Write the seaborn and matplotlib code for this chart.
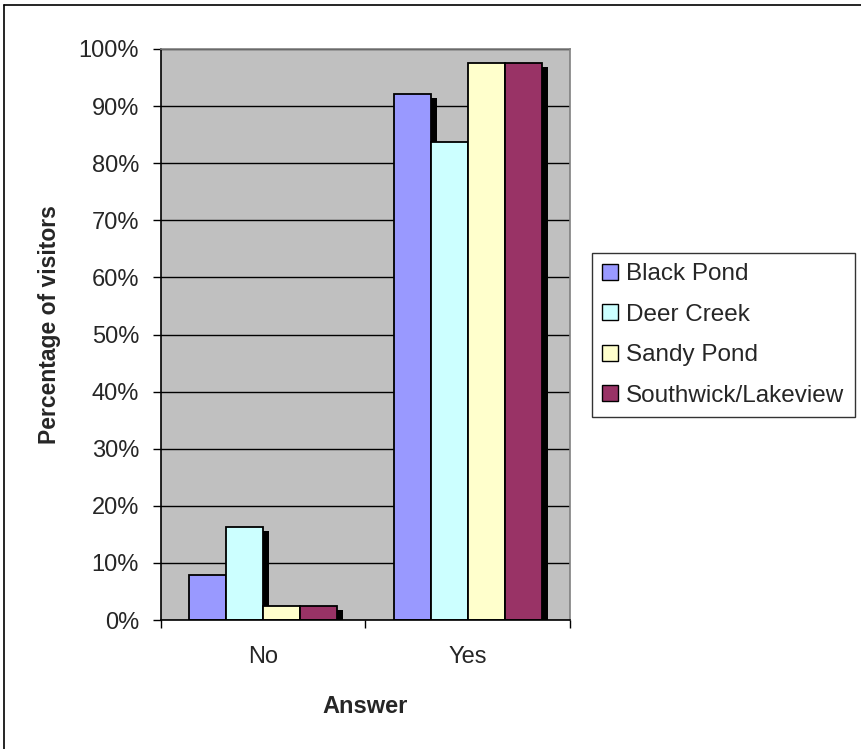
import matplotlib
matplotlib.use("Agg")
import matplotlib.pyplot as plt
import matplotlib.patheffects as pe
from matplotlib.lines import Line2D
from matplotlib.patches import Patch
import seaborn as sns
import pandas as pd

answers = ["No", "Yes"]
sites = ["Black Pond", "Deer Creek", "Sandy Pond", "Southwick/Lakeview"]
black_pond = [7.8, 92.2]
deer_creek = [16.3, 83.7]
sandy_pond = [2.5, 97.5]
southwick_lakeview = [2.5, 97.5]
y_ticks = [0, 10, 20, 30, 40, 50, 60, 70, 80, 90, 100]
y_tick_labels = [f"{t}%" for t in y_ticks]
colors = ["#9999FF", "#CCFFFF", "#FFFFCC", "#993366"]

rows = []
for site, vals in zip(sites, [black_pond, deer_creek, sandy_pond, southwick_lakeview]):
    for ans, v in zip(answers, vals):
        rows.append({"Answer": ans, "Site": site, "Percent": v})
df = pd.DataFrame(rows)

sns.set_theme(style="white")
plt.rcParams["font.family"] = ["Liberation Sans", "DejaVu Sans"]

fig = plt.figure(figsize=(8.61, 7.49), dpi=100)
ax = fig.add_axes([0.187, 0.1722, 0.475, 0.7624])

sns.barplot(data=df, x="Answer", y="Percent", hue="Site", order=answers,
            hue_order=sites, palette=colors, width=0.725, saturation=1,
            edgecolor="black", linewidth=1.3, errorbar=None, legend=False, ax=ax)

# drop shadow offset to the lower right of every bar
shadow = [pe.SimplePatchShadow(offset=(4.4, -3.0), shadow_rgbFace="black", alpha=1.0),
          pe.Normal()]
for p in ax.patches:
    p.set_path_effects(shadow)

ax.set_facecolor("#C0C0C0")
ax.set_ylim(0, 100)
ax.set_xlim(-0.5, 1.5)
ax.set_yticks(y_ticks)
ax.set_yticklabels(y_tick_labels, fontsize=17)
ax.yaxis.grid(True, color="black", linewidth=1.0)
ax.set_axisbelow(True)
ax.tick_params(axis="y", which="both", left=True, length=5.8, width=1, color="black", pad=10)
ax.set_xticks([0, 1])
ax.set_xticklabels(answers)
ax.tick_params(axis="x", which="major", bottom=True, length=0, labelsize=17, pad=19)
ax.set_xticks([-0.5, 0.5, 1.5], minor=True)
ax.tick_params(axis="x", which="minor", bottom=True, length=5.8, width=1, color="black")

for s in ["left", "bottom"]:
    ax.spines[s].set_color("black")
    ax.spines[s].set_linewidth(1.2)
for s in ["top", "right"]:
    ax.spines[s].set_color("#808080")
    ax.spines[s].set_linewidth(1.2)

ax.set_xlabel("Answer", fontsize=17, fontweight="bold", labelpad=19)
ax.set_ylabel("Percentage of visitors", fontsize=16.5, fontweight="bold")
ax.yaxis.set_label_coords(-0.245, 0.517)

handles = [Patch(facecolor=c, edgecolor="black", linewidth=1.0) for c in colors]
leg = fig.legend(handles, sites, loc="upper left", bbox_to_anchor=(592 / 861, 1 - 253 / 749),
                 frameon=True, fancybox=False, fontsize=17.5, handlelength=0.62,
                 handleheight=0.62, handletextpad=0.35, labelspacing=0.76,
                 borderpad=0.43, borderaxespad=0.0)
leg.get_frame().set_edgecolor("black")
leg.get_frame().set_linewidth(1.0)

# outer frame edges
fig.add_artist(Line2D([4 / 861, 4 / 861], [0, 1 - 5 / 749], transform=fig.transFigure,
                      color="black", linewidth=1.2))
fig.add_artist(Line2D([4 / 861, 1], [1 - 5 / 749, 1 - 5 / 749], transform=fig.transFigure,
                      color="black", linewidth=1.2))

fig.savefig("out.png", dpi=100, facecolor="white")
